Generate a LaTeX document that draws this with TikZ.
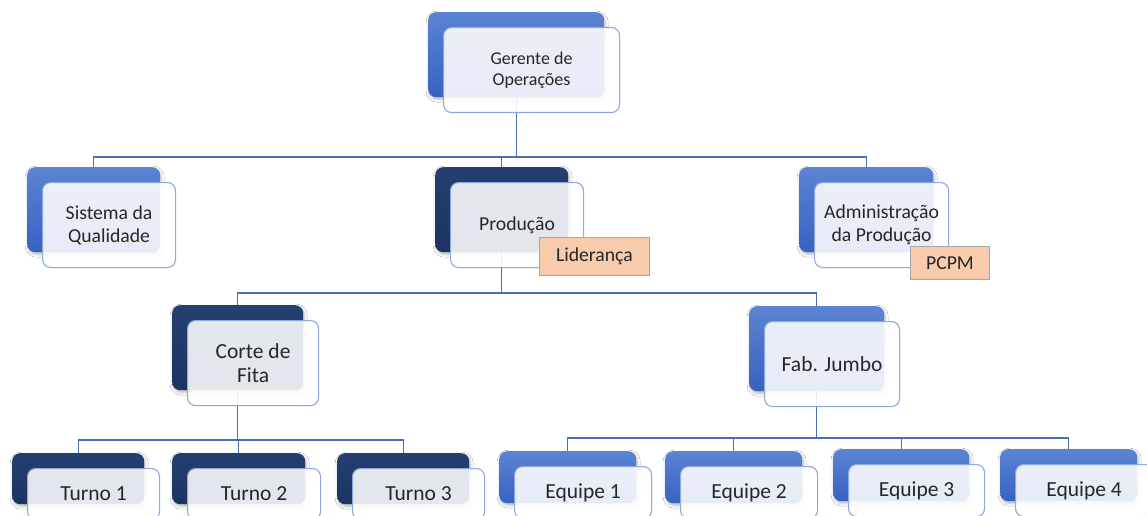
\documentclass[tikz,border=0pt]{standalone}
\usepackage{fontspec}
\setmainfont{Carlito}
\usetikzlibrary{shadows.blur,backgrounds}

\definecolor{blueA}{HTML}{5B84D3}
\definecolor{blueB}{HTML}{3762C2}
\definecolor{navyA}{HTML}{243F70}
\definecolor{navyB}{HTML}{1D3461}
\definecolor{frameblue}{HTML}{8EA9DB}
\definecolor{linkblue}{HTML}{4A6DB6}
\definecolor{textgray}{HTML}{262626}
\definecolor{peach}{HTML}{F8CBAD}
\definecolor{peachframe}{HTML}{A6A6A6}

\tikzset{
  backbox/.style={rectangle, rounded corners=8pt, inner sep=0pt, anchor=north west,
    blur shadow={shadow xshift=1pt, shadow yshift=-2pt, shadow blur radius=3pt, shadow opacity=30}},
  backlight/.style={backbox, top color=blueA, bottom color=blueB},
  backdark/.style={backbox, top color=navyA, bottom color=navyB},
  frontbox/.style={rectangle, rounded corners=8pt, inner sep=0pt, anchor=north west,
    draw=frameblue, line width=1.1pt, fill=white, fill opacity=0.88, text opacity=1,
    text=textgray, align=center},
  fontA/.style={font=\fontsize{18}{20.5}\selectfont},
  fontB/.style={font=\fontsize{19.7}{23}\selectfont},
  fontC/.style={font=\fontsize{21.5}{23.5}\selectfont},
  conn/.style={draw=linkblue, line width=1.3pt},
  tagbox/.style={rectangle, anchor=north west, inner sep=0pt, fill=peach,
    draw=peachframe, line width=0.8pt, text=textgray, font=\fontsize{19.7}{23}\selectfont}
}

% #1 name, #2 back style, #3 font style, #4 x, #5 y, #6 width, #7 height, #8 label
\newcommand\orgunit[8]{%
  \node[#2, minimum width=#6, minimum height=#7] (#1b) at (#4,#5) {};
  \node[frontbox, #3, minimum width=#6, minimum height=#7] (#1)
    at ([shift={(15,15)}]#1b.north west) {#8};
}

\begin{document}
\begin{tikzpicture}[x=1pt, y=-1pt]
  \useasboundingbox (0,0) rectangle (1147,516);

  % top
  \orgunit{ger}{backlight}{fontA}{428}{12}{176}{85}{Gerente de\\Operações}

  % second level
  \orgunit{sq}{backlight}{fontB}{27}{167}{133}{85}{Sistema da\\Qualidade}
  \orgunit{prod}{backdark}{fontB}{435}{167}{133}{85}{Produção}
  \orgunit{adm}{backlight}{fontB}{799}{167}{134}{85}{Administração\\da Produção}

  % third level
  \orgunit{corte}{backdark}{fontC}{172}{305}{131}{85}{Corte de\\Fita}
  \orgunit{fab}{backlight}{fontC}{749}{306}{135}{85}{Fab. Jumbo}

  % fourth level
  \orgunit{t1}{backdark}{fontC}{12}{453}{132}{51}{Turno 1}
  \orgunit{t2}{backdark}{fontC}{172}{453}{133}{51}{Turno 2}
  \orgunit{t3}{backdark}{fontC}{337}{453}{132}{51}{Turno 3}
  \orgunit{e1}{backlight}{fontC}{499}{451}{137}{52}{Equipe 1}
  \orgunit{e2}{backlight}{fontC}{665}{451}{137}{52}{Equipe 2}
  \orgunit{e3}{backlight}{fontC}{833}{449}{136}{52}{Equipe 3}
  \orgunit{e4}{backlight}{fontC}{1000}{449}{137}{52}{Equipe 4}

  % tags
  \node[tagbox, minimum width=110, minimum height=38] (lid) at (539,237) {Liderança};
  \node[tagbox, minimum width=79, minimum height=33] (pcpm) at (910,246) {PCPM};

  % junction levels of the tree
  \coordinate (j1) at (0,157);
  \coordinate (j2) at (0,293);
  \coordinate (j3) at (0,440);
  \coordinate (j4) at (0,438);

  \begin{pgfonlayer}{background}
    \fill[white] (0,0) rectangle (1147,516);

    \draw[conn] (gerb.south) -- (gerb.south |- j1);
    \draw[conn] (sqb.north) |- (admb.north |- j1) -- (admb.north);
    \draw[conn] (prodb.north) -- (prodb.north |- j1);

    \draw[conn] (prodb.south) -- (prodb.south |- j2);
    \draw[conn] (corteb.north) |- (fabb.north |- j2) -- (fabb.north);

    \draw[conn] (corteb.south) -- (corteb.south |- j3);
    \draw[conn] (t1b.north) |- (t3b.north |- j3) -- (t3b.north);
    \draw[conn] (t2b.north) -- (t2b.north |- j3);

    \draw[conn] (fabb.south) -- (fabb.south |- j4);
    \draw[conn] (e1b.north) |- (e4b.north |- j4) -- (e4b.north);
    \draw[conn] (e2b.north) -- (e2b.north |- j4);
    \draw[conn] (e3b.north) -- (e3b.north |- j4);
  \end{pgfonlayer}
\end{tikzpicture}
\end{document}
